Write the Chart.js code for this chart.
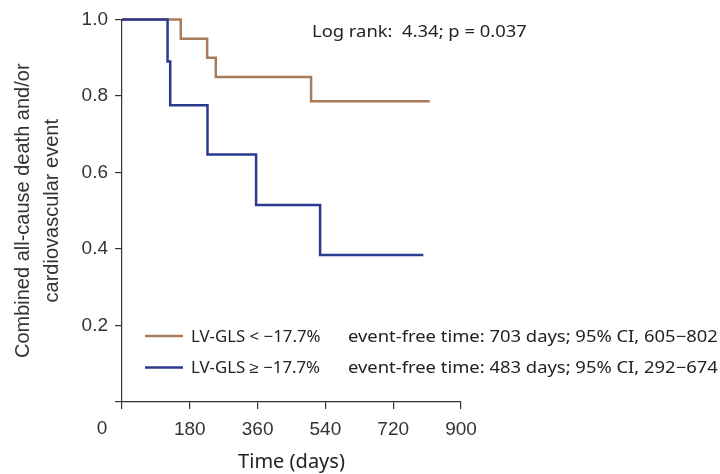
<!DOCTYPE html>
<html>
<head>
<meta charset="utf-8">
<script src="https://cdn.jsdelivr.net/npm/chart.js@4"></script>
<style>
  body { margin: 0; background: #fff; }
</style>
</head>
<body>
<canvas id="myChart" width="720" height="474"></canvas>
<script>
// Kaplan-Meier steps (days, proportion event-free)
const lowDays = [0, 156, 226, 249, 502, 817];
const lowSurv = [1.0, 0.95, 0.90, 0.85, 0.786, 0.786];
const highDays = [0, 121, 128, 227, 356, 526, 800];
const highSurv = [1.0, 0.89, 0.776, 0.647, 0.515, 0.384, 0.384];

const seriesNames = ['LV-GLS < \u221217.7%', 'LV-GLS \u2265 \u221217.7%'];
const eventFree = [
  'event-free time: 703 days; 95% CI, 605\u2212802',
  'event-free time: 483 days; 95% CI, 292\u2212674'
];
const seriesColors = ['#a87c5b', '#2b3a8e'];
const logRankText = 'Log rank:  4.34; p = 0.037';
const xTicks = [0, 180, 360, 540, 720, 900];
const yTicks = [0, 0.2, 0.4, 0.6, 0.8, 1.0];

function toPoints(xs, ys) {
  return xs.map((x, i) => ({ x: x, y: ys[i] }));
}

const tickFont = { family: '"Liberation Sans", Arial, sans-serif', size: 19 };
const noteFont = '16px "Noto Sans", sans-serif';

// draw text slightly widened, left aligned at x
function wideText(ctx, text, x, y, stretch) {
  ctx.save();
  ctx.translate(x, y);
  ctx.scale(stretch, 1);
  ctx.fillText(text, 0, 0);
  ctx.restore();
}

const annotations = {
  id: 'annotations',
  afterDraw(chart) {
    const { ctx, chartArea, scales } = chart;
    ctx.save();
    // shared origin label
    ctx.font = '19px "Liberation Sans", Arial, sans-serif';
    ctx.fillStyle = '#333';
    ctx.textAlign = 'center';
    ctx.textBaseline = 'middle';
    ctx.fillText('0', scales.x.getPixelForValue(0) - 20, chartArea.bottom + 27);

    // log rank text
    ctx.font = noteFont;
    ctx.textAlign = 'left';
    ctx.fillStyle = '#222';
    wideText(ctx, logRankText, chartArea.left + 190, chartArea.top + 13, 1.15);

    // legend
    seriesNames.forEach((name, i) => {
      const y = chartArea.bottom - 66 + i * 31.5;
      const x0 = chartArea.left + 23;
      ctx.strokeStyle = seriesColors[i];
      ctx.lineWidth = 2.5;
      ctx.beginPath();
      ctx.moveTo(x0, y);
      ctx.lineTo(x0 + 38, y);
      ctx.stroke();
      ctx.fillStyle = '#222';
      wideText(ctx, name, x0 + 46, y + 1, 1.05);
      wideText(ctx, eventFree[i], chartArea.left + 226, y + 1, 1.15);
    });
    ctx.restore();
  }
};

const ctx = document.getElementById('myChart').getContext('2d');
const myChart = new Chart(ctx, {
  type: 'line',
  data: {
    datasets: [
      {
        label: seriesNames[1],
        data: toPoints(highDays, highSurv),
        borderColor: seriesColors[1],
        borderWidth: 2.5,
        stepped: true,
        pointRadius: 0,
        fill: false,
        clip: 5
      },
      {
        label: seriesNames[0],
        data: toPoints(lowDays, lowSurv),
        borderColor: seriesColors[0],
        borderWidth: 2.5,
        stepped: true,
        pointRadius: 0,
        fill: false,
        clip: 5
      }
    ]
  },
  options: {
    responsive: false,
    animation: false,
    layout: { padding: { left: 0, top: 19.5, right: 259, bottom: 0 } },
    plugins: {
      legend: { display: false },
      tooltip: { enabled: false }
    },
    scales: {
      x: {
        type: 'linear',
        min: 0,
        max: 900,
        afterBuildTicks: (s) => { s.ticks = xTicks.map(v => ({ value: v })); },
        afterFit: (s) => { s.height = 72; },
        grid: { drawOnChartArea: false, drawTicks: true, tickLength: 7, color: '#333', lineWidth: 1.2 },
        border: { display: true, color: '#333', width: 1.2 },
        ticks: {
          font: tickFont,
          color: '#333',
          padding: 9,
          maxRotation: 0,
          autoSkip: false,
          callback: (v) => v === 0 ? '' : v
        },
        title: {
          display: true,
          text: 'Time (days)',
          font: { family: '"Noto Sans", sans-serif', size: 20 },
          color: '#222',
          padding: { top: 0, bottom: 0 }
        }
      },
      y: {
        min: 0,
        max: 1,
        afterBuildTicks: (s) => { s.ticks = yTicks.map(v => ({ value: v })); },
        afterFit: (s) => { s.width = 122; },
        grid: { drawOnChartArea: false, drawTicks: true, tickLength: 7, color: '#333', lineWidth: 1.2 },
        border: { display: true, color: '#333', width: 1.2 },
        ticks: {
          font: tickFont,
          color: '#333',
          padding: 7,
          callback: (v) => v === 0 ? '' : v.toFixed(1)
        },
        title: {
          display: true,
          text: ['Combined all-cause death and/or', 'cardiovascular event'],
          font: { family: '"Liberation Sans", Arial, sans-serif', size: 20, lineHeight: 1.45 },
          color: '#333',
          padding: { top: 8.5, bottom: 0 }
        }
      }
    }
  },
  plugins: [annotations]
});
</script>
</body>
</html>
